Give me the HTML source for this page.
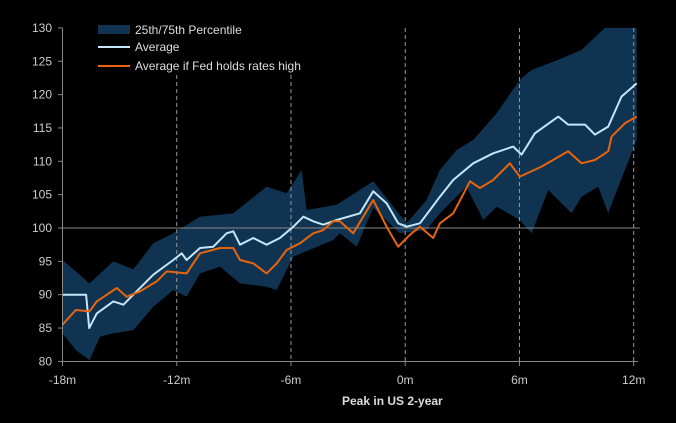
<!DOCTYPE html>
<html><head><meta charset="utf-8"><style>
body{margin:0;background:#000;width:676px;height:418px;overflow:hidden}
svg text{font-family:"Liberation Sans",sans-serif}
</style></head><body>
<svg id="chart" width="676" height="418" viewBox="0 0 676 418">
<rect width="676" height="418" fill="#000"/>
<g id="band"></g>
<g id="grid"></g>
<g id="lines"></g>
<g id="axes"></g>
<g>
<rect x="98" y="25" width="32" height="9" fill="#0f3350"/>
<text x="135" y="34" font-size="12" fill="#ddd">25th/75th Percentile</text>
<line x1="98" y1="47" x2="130" y2="47" stroke="#c4e6fa" stroke-width="2"/>
<text x="135" y="51" font-size="12" fill="#ddd">Average</text>
<line x1="98" y1="66" x2="130" y2="66" stroke="#e8650f" stroke-width="2"/>
<text x="135" y="70" font-size="12" fill="#ddd">Average if Fed holds rates high</text>
</g>
<text x="342" y="405" font-size="12" font-weight="bold" fill="#ddd">Peak in US 2-year</text>
</svg>
<script>
const xTicks=[-18,-12,-6,0,6,12];
const xTickLabels=["-18m","-12m","-6m","0m","6m","12m"];
const yTicks=[80,85,90,95,100,105,110,115,120,125,130];
const avgMonths=[-18,-16.76,-16.6,-16.2,-15.33,-14.8,-14.28,-13.23,-12.18,-11.74,-11.48,-10.78,-10.08,-9.38,-9.03,-8.68,-7.98,-7.28,-6.58,-5.88,-5.35,-4.83,-4.3,-3.6,-2.38,-1.68,-0.98,-0.37,0.07,0.77,1.3,1.82,2.52,3.57,4.62,5.67,6.11,6.81,8.04,8.56,9.44,9.96,10.66,11.36,12.16];
const avgValues=[90,90,85,87.2,89,88.5,90,93,95.2,96.2,95.2,97,97.2,99.2,99.5,97.5,98.5,97.5,98.5,100.2,101.7,101,100.5,101.2,102.2,105.5,103.7,100.7,100.2,100.7,102.7,104.7,107.2,109.7,111.2,112.2,111,114.2,116.7,115.5,115.5,114,115.2,119.7,121.7];
const fedMonths=[-18,-17.3,-16.58,-16.2,-15.15,-14.63,-13.93,-13.05,-12.53,-11.48,-10.78,-9.73,-9.03,-8.68,-7.98,-7.28,-6.75,-6.23,-5.53,-4.83,-4.3,-3.78,-3.43,-2.73,-1.68,-0.98,-0.37,0.25,0.77,1.47,1.82,2.52,3.4,3.92,4.62,5.5,6.02,7.16,8.56,9.26,9.96,10.66,10.84,11.54,12.16];
const fedValues=[85.5,87.7,87.5,89,91,89.7,90.5,92,93.5,93.2,96.2,97,97,95.2,94.7,93.2,94.7,96.7,97.7,99.2,99.7,101,101,99.2,104.2,100.2,97.2,99,100.2,98.5,100.7,102.2,107,106,107.2,109.7,107.7,109.2,111.5,109.7,110.2,111.5,113.7,115.7,116.7];
const upperMonths=[-18,-16.58,-15.33,-14.28,-13.23,-12.18,-10.78,-9.03,-7.28,-6.23,-5.44,-5.18,-3.6,-1.68,0.07,1.12,1.82,2.7,3.57,4.8,6.02,6.64,8.04,9.26,10.49,12.16];
const upperValues=[95.2,91.7,95,93.8,97.7,99.2,101.7,102.2,106.2,105.2,108.7,102.7,103.5,107,100.7,104.2,108.7,111.7,113.2,117.2,122.2,123.7,125.2,126.7,130,130];
const lowerMonths=[-18,-17.3,-16.58,-16.03,-15.33,-14.28,-13.23,-12.18,-11.48,-10.78,-9.73,-8.68,-7.28,-6.75,-5.88,-3.78,-3.43,-2.55,-1.68,-0.28,1.12,1.82,3.22,4.1,4.8,6.02,6.64,7.51,8.74,9.26,10.14,10.66,11.19,12.16];
const lowerValues=[84.2,81.7,80.2,83.7,84.2,84.7,88.2,90.7,89.7,93.2,94.2,91.7,91.2,90.7,95.7,98.2,99.2,97.2,103,99.2,99.7,102.2,106.2,101.2,103.2,101.2,99.2,105.7,102.2,104.7,106.2,102.2,106.2,113.2];
const NS="http://www.w3.org/2000/svg";
const X=m=>62.5+(m+18)*19.04;
const Y=v=>228-(v-100)*6.67;
function mk(t,a,p){const e=document.createElementNS(NS,t);for(const k in a)e.setAttribute(k,a[k]);p.appendChild(e);return e;}
const band=document.getElementById('band'),grid=document.getElementById('grid'),lines=document.getElementById('lines'),axes=document.getElementById('axes');
let d=upperMonths.map((m,i)=>(i?'L':'M')+X(m).toFixed(1)+','+Y(upperValues[i]).toFixed(1)).join('');
for(let i=lowerMonths.length-1;i>=0;i--)d+='L'+X(lowerMonths[i]).toFixed(1)+','+Y(lowerValues[i]).toFixed(1);
const bp=mk('path',{d:d+'Z',fill:'#0f3350'},band);


xTicks.slice(1).forEach(t=>{const top=t<0?75:28;const l=mk('line',{x1:X(t),x2:X(t),y1:top,y2:361.5,stroke:'#999','stroke-dasharray':'4,3','stroke-width':1},grid);

});
const hl=mk('line',{x1:62.5,x2:640,y1:Y(100),y2:Y(100),stroke:'#888','stroke-width':1},grid);


function line(ms,vs,c,n){const p=mk('polyline',{points:ms.map((m,i)=>X(m).toFixed(1)+','+Y(vs[i]).toFixed(1)).join(' '),fill:'none',stroke:c,'stroke-width':2,'stroke-linejoin':'round'},lines);

}
line(avgMonths,avgValues,'#c4e6fa','average-line');
line(fedMonths,fedValues,'#e8650f','fed-holds-line');
const ya=mk('line',{x1:62.5,x2:62.5,y1:28,y2:361.5,stroke:'#888'},axes);


const xa=mk('line',{x1:62.5,x2:638,y1:361.5,y2:361.5,stroke:'#888'},axes);


yTicks.forEach(v=>{mk('line',{x1:58,x2:62.5,y1:Y(v),y2:Y(v),stroke:'#888'},axes);
const t=mk('text',{x:52,y:Y(v)+4,'font-size':12,fill:'#ccc','text-anchor':'end'},axes);t.textContent=v;

});
xTicks.forEach((v,i)=>{mk('line',{x1:X(v),x2:X(v),y1:361.5,y2:366,stroke:'#888'},axes);
const t=mk('text',{x:X(v),y:384,'font-size':12,fill:'#ccc','text-anchor':'middle'},axes);t.textContent=xTickLabels[i];

});
</script>
</body></html>
